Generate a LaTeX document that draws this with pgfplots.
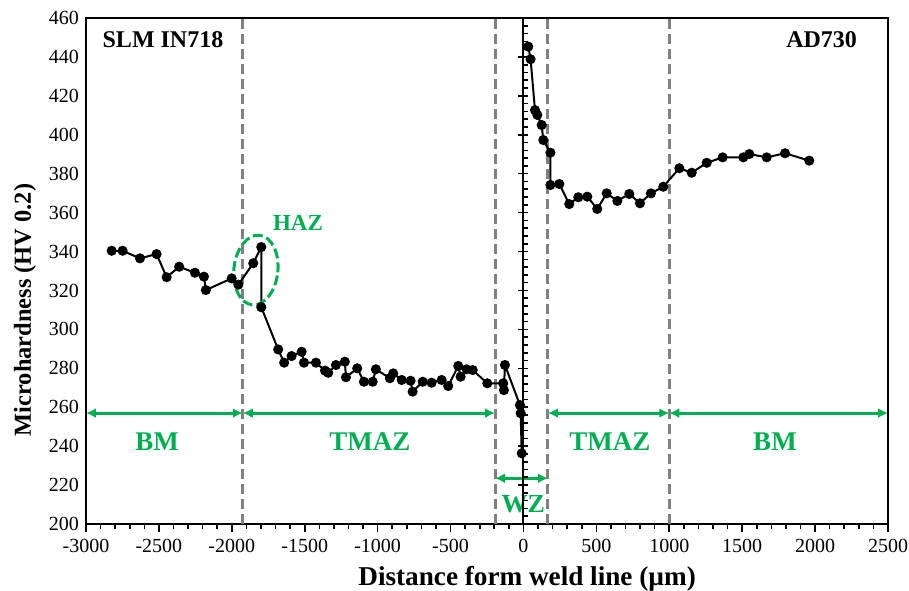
\documentclass[border=0pt]{standalone}
\usepackage{fontspec}
\setmainfont{Liberation Serif}
\usepackage{pgfplots}
\pgfplotsset{compat=1.18}
\usetikzlibrary{arrows.meta,calc}
\definecolor{exgreen}{RGB}{0,176,80}
\definecolor{dgray}{RGB}{128,128,128}
\begin{document}
\begin{tikzpicture}
\begin{axis}[name=ax, scale only axis, width=401pt, height=253pt,
 xmin=-3000, xmax=2500, ymin=200, ymax=460,
 xtick={-3000,-2500,...,2500}, minor x tick num=4,
 ytick={200,220,...,460},
 xtick pos=bottom, ytick pos=left,
 ytick style={draw=none},
 xtick align=outside,
 major tick length=4pt, minor tick length=2.5pt,
 xtick style={line width=0.8pt, black},
 axis line style={line width=1pt},
 ticklabel style={font=\fontsize{10}{12}\selectfont},
 /pgf/number format/assume math mode=true,
 /pgf/number format/1000 sep={},
 xlabel={Distance form weld line (µm)},
 ylabel={Microhardness (HV 0.2)},
 xlabel style={font=\bfseries\fontsize{13.6}{16}\selectfont, at={(axis description cs:0.55,-0.1225)}, anchor=base},
 ylabel style={font=\bfseries\fontsize{12.2}{14}\selectfont, at={(axis description cs:-0.076,0.423)}, anchor=center},
]
% zone boundaries
\draw[dgray, line width=1.5pt, dash pattern=on 5pt off 2.5pt] (axis cs:-1925,200) -- (axis cs:-1925,460);
\draw[dgray, line width=1.5pt, dash pattern=on 5pt off 2.5pt] (axis cs:-195,200) -- (axis cs:-195,460);
\draw[dgray, line width=1.5pt, dash pattern=on 5pt off 2.5pt] (axis cs:168,200) -- (axis cs:168,460);
\draw[dgray, line width=1.5pt, dash pattern=on 5pt off 2.5pt] (axis cs:1000,200) -- (axis cs:1000,460);

% SLM IN718 side
\addplot[black, line width=1pt, mark=*, mark size=2pt, mark options={solid, fill=black}] coordinates {
(-2824,340.4) (-2749,340.4) (-2630,336.5) (-2516,338.7) (-2447,326.8) (-2361,332.2)
(-2253,329.1) (-2191,327.1) (-2178,320.2) (-2001,326.2) (-1955,323.0) (-1853,334.0)
(-1798,342.3) (-1798,311.4) (-1682,289.7) (-1641,282.9) (-1590,286.3) (-1521,288.5)
(-1505,282.9) (-1423,282.9) (-1361,278.8) (-1339,277.7) (-1286,281.7) (-1225,283.4)
(-1217,275.4) (-1140,280.0) (-1094,273.1) (-1034,273.1) (-1012,279.5) (-916,274.9)
(-893,277.4) (-835,274.0) (-774,273.6) (-760,268.0) (-691,273.1) (-630,272.6)
(-561,274.0) (-516,270.9) (-447,281.2) (-431,275.7) (-390,279.5) (-348,279.1)
(-248,272.3) (-139,272.3) (-134,268.8) (-127,281.7) (-24,261.1) (-19,256.9) (-12,236.3)
};
% AD730 side
\addplot[black, line width=1pt, mark=*, mark size=2pt, mark options={solid, fill=black}] coordinates {
(33,445.3) (49,438.8) (79,412.7) (95,410.2) (125,405.0) (136,397.3) (185,390.8)
(185,374.2) (246,374.7) (314,364.4) (376,367.9) (438,368.2) (506,361.9) (571,369.9)
(644,366.0) (726,369.6) (799,364.8) (874,369.9) (959,373.3) (1069,382.8) (1154,380.5)
(1257,385.6) (1366,388.4) (1508,388.4) (1549,390.1) (1668,388.4) (1794,390.5) (1960,386.7)
};

% HAZ ellipse
\draw[exgreen, line width=1.5pt, dash pattern=on 5pt off 2pt] (axis cs:-1835,330.5) circle [x radius=11pt, y radius=17.5pt, rotate=-6];

% zone arrows
\draw[exgreen, line width=1.5pt, {Latex[length=5pt,width=5pt]}-{Latex[length=5pt,width=5pt]}] (axis cs:-3000,257) -- (axis cs:-1925,257);
\draw[exgreen, line width=1.5pt, {Latex[length=5pt,width=5pt]}-{Latex[length=5pt,width=5pt]}] (axis cs:-1925,257) -- (axis cs:-195,257);
\draw[exgreen, line width=1.5pt, {Latex[length=5pt,width=5pt]}-{Latex[length=5pt,width=5pt]}] (axis cs:168,257) -- (axis cs:1000,257);
\draw[exgreen, line width=1.5pt, {Latex[length=5pt,width=5pt]}-{Latex[length=5pt,width=5pt]}] (axis cs:1000,257) -- (axis cs:2500,257);
\draw[exgreen, line width=1.5pt, {Latex[length=5pt,width=5pt]}-{Latex[length=5pt,width=5pt]}] (axis cs:-195,223.5) -- (axis cs:168,223.5);

% labels
\node[font=\bfseries\fontsize{12}{14}\selectfont] at (axis cs:-2472,448.7) {SLM IN718};
\node[font=\bfseries\fontsize{12}{14}\selectfont] at (axis cs:2045,448.7) {AD730};
\node[exgreen, font=\bfseries\fontsize{11.5}{14}\selectfont] at (axis cs:-1546,354.8) {HAZ};
\node[exgreen, font=\bfseries\fontsize{13.5}{16}\selectfont] at (axis cs:-2513,242.3) {BM};
\node[exgreen, font=\bfseries\fontsize{13.5}{16}\selectfont] at (axis cs:-1053,242.3) {TMAZ};
\node[exgreen, font=\bfseries\fontsize{13.5}{16}\selectfont] at (axis cs:593,242.3) {TMAZ};
\node[exgreen, font=\bfseries\fontsize{13.5}{16}\selectfont] at (axis cs:1725,242.3) {BM};
\node[exgreen, font=\bfseries\fontsize{13}{16}\selectfont] at (axis cs:-1,210.4) {WZ};
\end{axis}
% y axis crossing at x = 0 with its ticks
\begin{axis}[scale only axis, width=401pt, height=253pt,
 xmin=-3000, xmax=2500, ymin=200, ymax=460,
 axis x line=none, axis y line=middle,
 axis line style={-, line width=1pt},
 ytick={200,220,...,460}, yticklabels={},
 minor y tick num=4, tick align=center,
 major tick length=5pt, minor tick length=2.5pt,
 ytick style={line width=0.8pt, black},
 minor y tick style={xshift=1.25pt},
]
\end{axis}
\pgfresetboundingbox
\path[use as bounding box] ($(ax.south west)+(-43pt,-33pt)$) rectangle ($(ax.north east)+(10.5pt,9pt)$);
\end{tikzpicture}
\end{document}
